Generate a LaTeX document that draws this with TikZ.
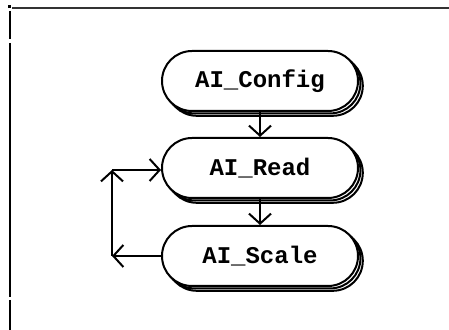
\documentclass[tikz,border=0pt]{standalone}
\usepackage{fontspec}
\setmonofont{Liberation Mono}
\usetikzlibrary{shapes.misc,arrows.meta,shadows}
\begin{document}
\begin{tikzpicture}[x=0.5pt,y=-0.5pt,
  proc/.style={rounded rectangle, draw, line width=1pt, fill=white,
    minimum width=98pt, minimum height=30pt, inner sep=0pt,
    font=\ttfamily\bfseries\fontsize{12}{14}\selectfont,
    double copy shadow={shadow xshift=1.2pt, shadow yshift=-1.2pt, draw, fill=white}},
  flow/.style={line width=1pt, -{Straight Barb[length=5pt,width=11pt,line width=1pt]}},
  frame/.style={line width=1.4pt}]
\useasboundingbox (0,0) rectangle (449,330);
% frame remnants
\fill (7.5,5.5) rectangle (10.5,8.5);
\draw[line width=1pt, black!80] (12,8) -- (449,8);
\draw[frame] (10,11) -- (10,39);
\draw[frame] (10,43) -- (10,297);
\draw[frame] (10,300) -- (10,330);
% nodes
\node[proc] (cfg) at (260,81) {AI\_Config};
\node[proc] (rd) at (260,168) {AI\_Read};
\node[proc] (sc) at (260,256) {AI\_Scale};
\coordinate (c1) at (112,256);
\coordinate (c2) at (112,170);
\draw[flow] (cfg.south) -- (rd.north);
\draw[flow] (rd.south) -- (sc.north);
\draw[flow] (sc.west) -- (c1);
\draw[flow] (c1) -- (c2);
\draw[flow] (c2) -- (rd.west |- c2);
\end{tikzpicture}
\end{document}
